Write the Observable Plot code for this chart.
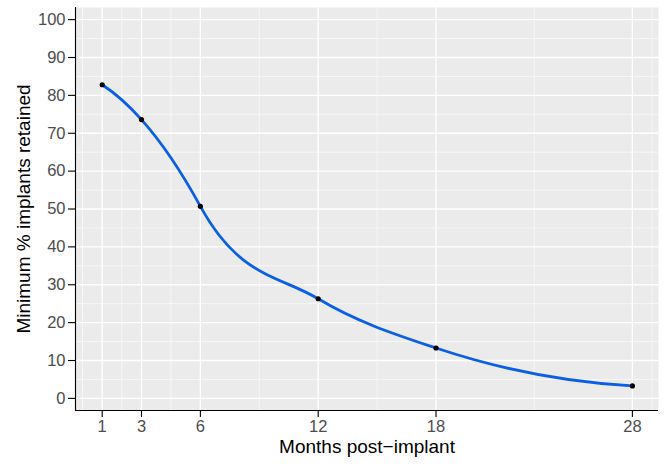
<!DOCTYPE html>
<html>
<head>
<meta charset="utf-8">
<script src="https://cdn.jsdelivr.net/npm/d3@7"></script>
<script src="https://cdn.jsdelivr.net/npm/@observablehq/plot@0.6"></script>
<style>
  html, body { margin: 0; padding: 0; background: #ffffff; }
  #chart svg { display: block; }
</style>
</head>
<body>
<div id="chart"></div>
<script>
const months = [1, 3, 6, 12, 18, 28];
const retained = [82.8, 73.6, 50.7, 26.3, 13.3, 3.3];
const xTicks = [1, 3, 6, 12, 18, 28];
const xMinor = [0, 2, 4.5, 9, 15, 23, 29];
const yTicks = [0, 10, 20, 30, 40, 50, 60, 70, 80, 90, 100];
const yMinor = [5, 15, 25, 35, 45, 55, 65, 75, 85, 95];
const xLabel = "Months post\u2212implant";
const yLabel = "Minimum % implants retained";

const data = months.map((m, i) => ({month: m, value: retained[i]}));
const xDomain = [-0.36, 29.33];
const yDomain = [-3.2, 103.2];
const font = "'Liberation Sans', Arial, Helvetica, sans-serif";

// Loess-style smoother (span 0.75, local quadratic, tricube weights) drawn as a
// cubic Hermite curve between the given points, like ggplot's geom_smooth.
function loessSlope(pts, i, span) {
  const n = pts.length;
  const q = Math.max(3, Math.floor(n * span + 1e-5));
  const x0 = pts[i][0];
  const dist = pts.map(p => Math.abs(p[0] - x0)).sort((a, b) => a - b);
  const h = dist[Math.min(q, n) - 1] * (q > n ? q / n : 1);
  let S = [[0,0,0],[0,0,0],[0,0,0]], B = [0,0,0];
  for (const [x, y] of pts) {
    const u = Math.abs(x - x0) / h;
    if (u >= 1) continue;
    const w = Math.pow(1 - u * u * u, 3);
    const v = [1, x - x0, (x - x0) * (x - x0)];
    for (let r = 0; r < 3; r++) {
      B[r] += w * v[r] * y;
      for (let c = 0; c < 3; c++) S[r][c] += w * v[r] * v[c];
    }
  }
  const M = S.map((row, r) => [...row, B[r]]);
  for (let c = 0; c < 3; c++) {
    let p = c;
    for (let r = c + 1; r < 3; r++) if (Math.abs(M[r][c]) > Math.abs(M[p][c])) p = r;
    [M[c], M[p]] = [M[p], M[c]];
    for (let r = 0; r < 3; r++) {
      if (r === c) continue;
      const f = M[r][c] / M[c][c];
      for (let k = c; k < 4; k++) M[r][k] -= f * M[c][k];
    }
  }
  return M[1][3] / M[1][1];
}

function curveLoess(context) {
  let pts;
  return {
    areaStart() {}, areaEnd() {},
    lineStart() { pts = []; },
    point(x, y) { pts.push([+x, +y]); },
    lineEnd() {
      if (!pts.length) return;
      const m = pts.map((_, i) => loessSlope(pts, i, 0.75));
      context.moveTo(pts[0][0], pts[0][1]);
      for (let i = 0; i < pts.length - 1; i++) {
        const [x0, y0] = pts[i], [x1, y1] = pts[i + 1];
        const d = (x1 - x0) / 3;
        context.bezierCurveTo(x0 + d, y0 + m[i] * d, x1 - d, y1 - m[i + 1] * d, x1, y1);
      }
    }
  };
}

const chart = Plot.plot({
  width: 666,
  height: 465,
  marginLeft: 75,
  marginRight: 8,
  marginTop: 7,
  marginBottom: 55,
  style: {fontFamily: font, background: "#ffffff"},
  x: {type: "linear", domain: xDomain},
  y: {type: "linear", domain: yDomain},
  marks: [
    Plot.frame({fill: "#EBEBEB", stroke: "none"}),
    Plot.ruleX(xMinor, {stroke: "#ffffff", strokeWidth: 0.6}),
    Plot.ruleY(yMinor, {stroke: "#ffffff", strokeWidth: 0.6}),
    Plot.ruleX(xTicks, {stroke: "#ffffff", strokeWidth: 1.3}),
    Plot.ruleY(yTicks, {stroke: "#ffffff", strokeWidth: 1.3}),
    Plot.line(data, {x: "month", y: "value", curve: curveLoess, stroke: "#0B5FE6", strokeWidth: 2.8}),
    Plot.dot(data, {x: "month", y: "value", r: 2.6, fill: "#000000", stroke: "none"}),
    Plot.ruleX([xDomain[0]], {stroke: "#000000", strokeWidth: 1.1}),
    Plot.ruleY([yDomain[0]], {stroke: "#000000", strokeWidth: 1.1}),
    Plot.axisX({ticks: xTicks, tickFormat: d => String(d), tickSize: 7, tickPadding: 3, fontSize: 16.5, color: "#4D4D4D", stroke: "#000000", strokeWidth: 1.1, label: null}),
    Plot.axisY({ticks: yTicks, tickFormat: d => String(d), tickSize: 7, tickPadding: 3, fontSize: 16.5, color: "#4D4D4D", stroke: "#000000", strokeWidth: 1.1, label: null}),
    Plot.text([xLabel], {frameAnchor: "bottom", dy: 42, fontSize: 19, fill: "#000000", textAnchor: "middle"}),
    Plot.text([yLabel], {frameAnchor: "left", dx: -52, rotate: -90, fontSize: 19, fill: "#000000", textAnchor: "middle"})
  ]
});
document.getElementById("chart").appendChild(chart);
</script>
</body>
</html>
